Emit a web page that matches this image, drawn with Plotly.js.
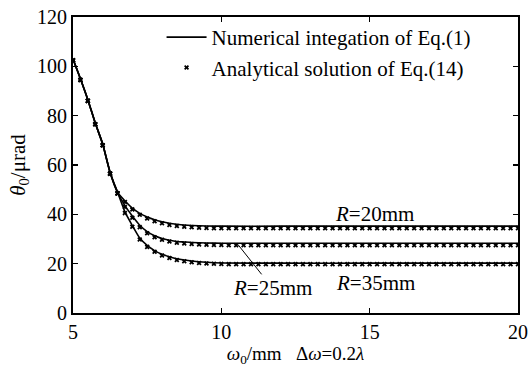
<!DOCTYPE html>
<html>
<head>
<meta charset="utf-8">
<script src="https://cdn.plot.ly/plotly-3.0.1.min.js"></script>
<style>html,body{margin:0;padding:0;background:#fff;}#chart{width:532px;height:367px;}</style>
</head>
<body>
<div id="chart"></div>
<script>
// Numerical integration of Eq.(1)
const numX = [5, 5.25, 5.5, 5.75, 6, 6.25, 6.5, 6.75, 7, 7.25, 7.5, 7.75, 8, 8.25, 8.5, 8.75, 9, 9.5, 10, 12, 15, 20];
const numR20 = [103, 95, 86.5, 77, 68.5, 57, 49, 45.5, 42.5, 40.4, 38.9, 37.8, 37, 36.4, 36, 35.7, 35.5, 35.3, 35.2, 35.2, 35.2, 35.2];
const numR25 = [103, 95, 86.5, 77, 68.5, 57, 49, 43.5, 39.3, 35.6, 33, 31.3, 30.2, 29.5, 29, 28.8, 28.6, 28.4, 28.3, 28.3, 28.3, 28.3];
const numR35 = [103, 95, 86.5, 77, 68.5, 57, 49, 41, 35.5, 30.4, 27.4, 25.3, 23.8, 22.8, 22, 21.5, 21.1, 20.6, 20.3, 20.2, 20.2, 20.2];

// Analytical solution of Eq.(14)
const anaX = [5, 5.25, 5.5, 5.75, 6, 6.25, 6.5, 6.75, 7, 7.25, 7.5, 7.75, 8, 8.25, 8.5, 8.75, 9, 9.25, 9.5, 9.75, 10,
  10.25, 10.5, 10.75, 11, 11.25, 11.5, 11.75, 12, 12.25, 12.5, 12.75, 13, 13.25, 13.5, 13.75, 14, 14.25, 14.5, 14.75, 15,
  15.25, 15.5, 15.75, 16, 16.25, 16.5, 16.75, 17, 17.25, 17.5, 17.75, 18, 18.25, 18.5, 18.75, 19, 19.25, 19.5, 19.75, 20];
const anaR20 = [102.5, 94.5, 86, 76.5, 68, 56.5, 48.5, 45, 42, 39.8, 38.3, 37.2, 36.4, 35.7, 35.3, 35, 34.8, 34.6, 34.5, 34.4, 34.4,
  34.4, 34.4, 34.4, 34.4, 34.4, 34.4, 34.4, 34.4, 34.4, 34.4, 34.4, 34.4, 34.4, 34.4, 34.4, 34.4, 34.4, 34.4, 34.4, 34.4,
  34.4, 34.4, 34.4, 34.4, 34.4, 34.4, 34.4, 34.4, 34.4, 34.4, 34.4, 34.4, 34.4, 34.4, 34.4, 34.4, 34.4, 34.4, 34.4, 34.4];
const anaR25 = [102.5, 94.5, 86, 76.5, 68, 56.5, 48.5, 43, 38.6, 34.8, 32.3, 30.7, 29.7, 29, 28.5, 28.2, 28, 27.8, 27.7, 27.6, 27.6,
  27.5, 27.5, 27.5, 27.5, 27.5, 27.5, 27.5, 27.5, 27.5, 27.5, 27.5, 27.5, 27.5, 27.5, 27.5, 27.5, 27.5, 27.5, 27.5, 27.5,
  27.5, 27.5, 27.5, 27.5, 27.5, 27.5, 27.5, 27.5, 27.5, 27.5, 27.5, 27.5, 27.5, 27.5, 27.5, 27.5, 27.5, 27.5, 27.5, 27.5];
const anaR35 = [102.5, 94.5, 86, 76.5, 68, 56.5, 48.5, 40.5, 35, 29.8, 26.8, 24.8, 23.3, 22.3, 21.5, 21, 20.6, 20.3, 20.1, 20, 19.9,
  19.8, 19.8, 19.8, 19.8, 19.8, 19.8, 19.8, 19.8, 19.8, 19.8, 19.8, 19.8, 19.8, 19.8, 19.8, 19.8, 19.8, 19.8, 19.8, 19.8,
  19.8, 19.8, 19.8, 19.8, 19.8, 19.8, 19.8, 19.8, 19.8, 19.8, 19.8, 19.8, 19.8, 19.8, 19.8, 19.8, 19.8, 19.8, 19.8, 19.8];

const xTicks = [5, 10, 15, 20];
const yTicks = [0, 20, 40, 60, 80, 100, 120];
const legendNames = ["Numerical integation of Eq.(1)", "Analytical solution of Eq.(14)"];
const curveLabels = ["<i>R</i>=20mm", "<i>R</i>=25mm", "<i>R</i>=35mm"];

const FONT = "Times New Roman, Liberation Serif, serif";

function lineTrace(y, show) {
  return {x: numX, y: y, mode: "lines", type: "scatter", name: legendNames[0], showlegend: show,
    line: {color: "#000", width: 1.6, shape: "spline", smoothing: 0.6}};
}
function markTrace(y, show) {
  return {x: anaX, y: y, mode: "markers", type: "scatter", name: legendNames[1], showlegend: show,
    marker: {symbol: "x", size: 4.5, color: "#000", line: {width: 0}}};
}

const data = [
  lineTrace(numR20, true), markTrace(anaR20, true),
  lineTrace(numR25, false), markTrace(anaR25, false),
  lineTrace(numR35, false), markTrace(anaR35, false)
];

const layout = {
  width: 532, height: 367,
  margin: {l: 73, r: 14, t: 17, b: 54},
  paper_bgcolor: "#fff", plot_bgcolor: "#fff",
  font: {family: FONT, color: "#000", size: 18},
  showlegend: true,
  legend: {x: 0.199, y: 1.0, xanchor: "left", yanchor: "top", bgcolor: "rgba(0,0,0,0)",
    font: {family: FONT, size: 21, color: "#000"}, tracegroupgap: 0, itemwidth: 40},
  xaxis: {range: [5, 20], tickvals: xTicks, ticktext: xTicks.map(String), ticks: "inside", ticklen: 5,
    showline: true, linecolor: "#000", linewidth: 2, mirror: "ticks", showgrid: false, zeroline: false,
    tickfont: {family: FONT, size: 20}, tickcolor: "#000", tickwidth: 1.5,
    title: {text: "<i>ω</i><sub>0</sub>/mm   Δ<i>ω</i>=0.2<i>λ</i>", font: {family: FONT, size: 19}, standoff: 2}},
  yaxis: {range: [0, 120], tickvals: yTicks, ticktext: yTicks.map(String), ticks: "inside", ticklen: 5,
    showline: true, linecolor: "#000", linewidth: 2, mirror: "ticks", showgrid: false, zeroline: false,
    tickfont: {family: FONT, size: 20}, tickcolor: "#000", tickwidth: 1.5,
    title: {text: "<i>θ</i><sub>0</sub>/μrad", font: {family: FONT, size: 21}, standoff: 6}},
  annotations: [
    {x: 15.15, y: 40.2, text: curveLabels[0], showarrow: false, font: {family: FONT, size: 21}},
    {x: 10.57, y: 27.6, ax: 11.72, ay: 10.2, axref: "x", ayref: "y", text: curveLabels[1], showarrow: true,
      arrowhead: 0, arrowwidth: 1, arrowcolor: "#000", font: {family: FONT, size: 21}},
    {x: 15.2, y: 12.2, text: curveLabels[2], showarrow: false, font: {family: FONT, size: 21}}
  ]
};

Plotly.newPlot("chart", data, layout, {displayModeBar: false, staticPlot: true});
</script>
</body>
</html>
